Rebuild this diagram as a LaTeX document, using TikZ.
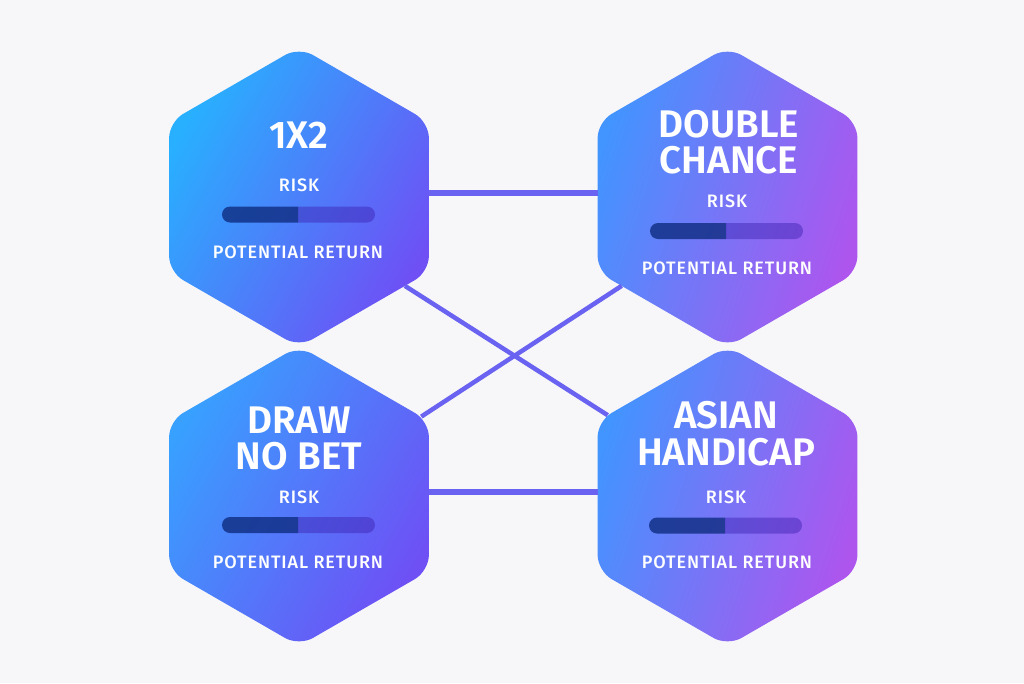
\documentclass[tikz,border=0pt]{standalone}
\usepackage{fontspec}
\usetikzlibrary{shapes.geometric,shapes.misc}
\setmainfont{Fira Sans}
\newfontfamily\capsfont[LetterSpace=5]{Fira Sans Medium}
\newfontfamily\titlefont{Fira Sans SemiBold}

\definecolor{pagebg}{HTML}{F7F7FA}
\definecolor{linkblue}{HTML}{6A62F0}
\definecolor{barnavy}{HTML}{0E2C80}
\definecolor{barviolet}{HTML}{3A20B0}
\definecolor{cyanA}{HTML}{28B0FF}
\definecolor{cyanB}{HTML}{4294FF}
\definecolor{cyanC}{HTML}{38A0FF}
\definecolor{violetA}{HTML}{6E50F5}
\definecolor{violetB}{HTML}{AE55EE}

\begin{document}
\begin{tikzpicture}[
        x = 1pt,
        y = -1pt,
        semithick % line style
    ]
    \tikzstyle{hex state}=[
        regular polygon,
        regular polygon sides = 6,
        shape border rotate = 30,
        minimum size = 300pt,
        inner sep = 0pt,
        outer sep = 0pt,
        rounded corners = 16pt
    ]
    \tikzstyle{top left hex}=[hex state, top color = cyanA, bottom color = violetA, shading angle = 60]
    \tikzstyle{low left hex}=[hex state, top color = cyanC, bottom color = violetA, shading angle = 60]
    \tikzstyle{right hex}=[hex state, top color = cyanB, bottom color = violetB, shading angle = 72]
    \tikzstyle{title}=[text = white, font = \fontsize{38.5}{38.5}\titlefont, inner sep = 0pt]
    \tikzstyle{caption}=[text = white, font = \fontsize{18}{18}\capsfont, inner sep = 0pt]
    \tikzstyle{bar left}=[
        rounded rectangle,
        rounded rectangle right arc = none,
        fill = barnavy,
        fill opacity = 0.8,
        minimum width = 76pt,
        minimum height = 16pt,
        inner sep = 0pt,
        outer sep = 0pt
    ]
    \tikzstyle{bar right}=[
        rounded rectangle,
        rounded rectangle left arc = none,
        fill = barviolet,
        fill opacity = 0.45,
        minimum width = 77pt,
        minimum height = 16pt,
        inner sep = 0pt,
        outer sep = 0pt
    ]
    \tikzstyle{link}=[draw = linkblue, line width = 4.5pt]
    \tikzstyle{flat link}=[draw = linkblue, line width = 5.5pt]

    \fill[pagebg] (0,0) rectangle (1024,683);
    \useasboundingbox (0,0) rectangle (1024,683);

    \node[top left hex] (onex) at (299, 197)   {};
    \node[right hex]    (dbl)  at (727.5, 197) {};
    \node[low left hex] (dnb)  at (299, 496)   {};
    \node[right hex]    (ah)   at (727.5, 496) {};

    \path[flat link] ([yshift=4pt]onex.east) edge ([yshift=4pt]dbl.west);
    \path[flat link] ([yshift=4pt]dnb.east) edge ([yshift=4pt]ah.west);
    \path[link] (onex.-40) edge (ah.146);
    \path[link] (dbl.220) edge (dnb.33);

    \node[title] (onextitle) at (299, 135) {1X2};
    \node[caption] (onerisk) at (299, 185) {RISK};
    \node[bar left, anchor = east]  (onelow)  at (298, 214.5) {};
    \node[bar right, anchor = west] (onehigh) at (298, 214.5) {};
    \node[caption] (onereturn) at (298, 252) {POTENTIAL RETURN};

    \node[title] (dbltop) at (729, 124) {DOUBLE};
    \node[title] (dblbot) at (729, 160) {CHANCE};
    \node[caption] (dblrisk) at (727, 201) {RISK};
    \node[bar left, anchor = east]  (dbllow)  at (726, 231) {};
    \node[bar right, anchor = west] (dblhigh) at (726, 231) {};
    \node[caption] (dblreturn) at (727, 268) {POTENTIAL RETURN};

    \node[title] (dnbtop) at (299, 420) {DRAW};
    \node[title] (dnbbot) at (299, 456) {NO BET};
    \node[caption] (dnbrisk) at (299, 497) {RISK};
    \node[bar left, anchor = east]  (dnblow)  at (298, 525) {};
    \node[bar right, anchor = west] (dnbhigh) at (298, 525) {};
    \node[caption] (dnbreturn) at (298, 562) {POTENTIAL RETURN};

    \node[title] (ahtop) at (726, 415) {ASIAN};
    \node[title] (ahbot) at (726, 452) {HANDICAP};
    \node[caption] (ahrisk) at (726, 497) {RISK};
    \node[bar left, anchor = east]  (ahlow)  at (725, 525.5) {};
    \node[bar right, anchor = west] (ahhigh) at (725, 525.5) {};
    \node[caption] (ahreturn) at (727, 562) {POTENTIAL RETURN};

\end{tikzpicture}
\end{document}
